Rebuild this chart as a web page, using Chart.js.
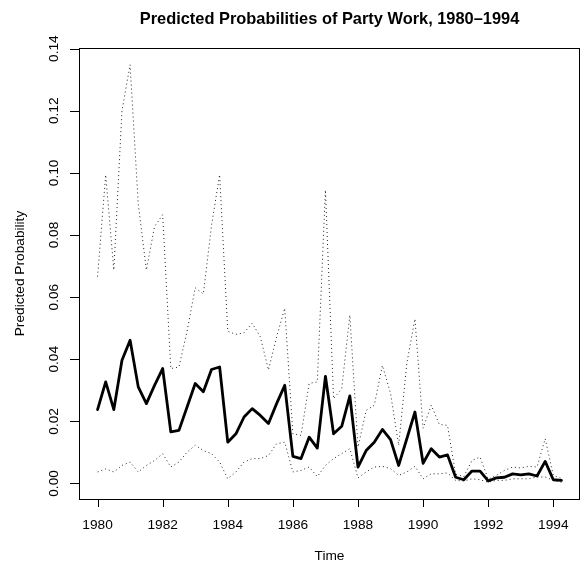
<!DOCTYPE html>
<html>
<head>
<meta charset="utf-8">
<script src="https://cdn.jsdelivr.net/npm/chart.js@4/dist/chart.umd.min.js"></script>
<style>
  html, body { margin: 0; padding: 0; background: #fff; }
  canvas { display: block; }
</style>
</head>
<body>
<canvas id="chart-area" width="583" height="572"></canvas>
<script>
// quarterly time points 1980 Q1 .. 1994 Q2
const time = [
  1980, 1980.25, 1980.5, 1980.75, 1981, 1981.25, 1981.5, 1981.75,
  1982, 1982.25, 1982.5, 1982.75, 1983, 1983.25, 1983.5, 1983.75,
  1984, 1984.25, 1984.5, 1984.75, 1985, 1985.25, 1985.5, 1985.75,
  1986, 1986.25, 1986.5, 1986.75, 1987, 1987.25, 1987.5, 1987.75,
  1988, 1988.25, 1988.5, 1988.75, 1989, 1989.25, 1989.5, 1989.75,
  1990, 1990.25, 1990.5, 1990.75, 1991, 1991.25, 1991.5, 1991.75,
  1992, 1992.25, 1992.5, 1992.75, 1993, 1993.25, 1993.5, 1993.75,
  1994, 1994.25
];

const predicted = [
  0.0238, 0.0327, 0.0238, 0.0397, 0.0461, 0.0311, 0.0257, 0.0316,
  0.0370, 0.0166, 0.0171, 0.0246, 0.0322, 0.0295, 0.0367, 0.0375,
  0.0133, 0.0160, 0.0214, 0.0241, 0.0219, 0.0193, 0.0257, 0.0316,
  0.0087, 0.0080, 0.0149, 0.0114, 0.0345, 0.0160, 0.0184, 0.0282,
  0.0053, 0.0106, 0.0133, 0.0174, 0.0141, 0.0058, 0.0144, 0.0230,
  0.0065, 0.0112, 0.0085, 0.0092, 0.0020, 0.0012, 0.0040, 0.0040,
  0.0008, 0.0018, 0.0020, 0.0031, 0.0028, 0.0031, 0.0024, 0.0071,
  0.0012, 0.0010
];

const upper = [
  0.0666, 0.0994, 0.0687, 0.1200, 0.1348, 0.0900, 0.0687, 0.0827,
  0.0865, 0.0370, 0.0375, 0.0490, 0.0630, 0.0610, 0.0830, 0.0994,
  0.0490, 0.0480, 0.0485, 0.0516, 0.0472, 0.0365, 0.0472, 0.0564,
  0.0160, 0.0155, 0.0322, 0.0327, 0.0945, 0.0273, 0.0305, 0.0542,
  0.0117, 0.0235, 0.0252, 0.0380, 0.0290, 0.0123, 0.0387, 0.0530,
  0.0178, 0.0252, 0.0190, 0.0187, 0.0030, 0.0022, 0.0074, 0.0085,
  0.0014, 0.0026, 0.0042, 0.0053, 0.0050, 0.0055, 0.0053, 0.0144,
  0.0026, 0.0016
];

const lower = [
  0.0037, 0.0047, 0.0037, 0.0058, 0.0069, 0.0037, 0.0058, 0.0074,
  0.0096, 0.0053, 0.0069, 0.0101, 0.0123, 0.0106, 0.0096, 0.0069,
  0.0015, 0.0037, 0.0069, 0.0080, 0.0080, 0.0090, 0.0128, 0.0133,
  0.0037, 0.0042, 0.0053, 0.0022, 0.0058, 0.0080, 0.0096, 0.0112,
  0.0018, 0.0037, 0.0053, 0.0055, 0.0048, 0.0026, 0.0037, 0.0055,
  0.0015, 0.0031, 0.0031, 0.0034, 0.0010, 0.0008, 0.0015, 0.0012,
  0.0004, 0.0010, 0.0010, 0.0015, 0.0015, 0.0015, 0.0021, 0.0021,
  0.0010, 0.0004
];

const xTicks = [1980, 1982, 1984, 1986, 1988, 1990, 1992, 1994];
const yTicks = [0.00, 0.02, 0.04, 0.06, 0.08, 0.10, 0.12, 0.14];

const titleText = 'Predicted Probabilities of Party Work, 1980\u20131994';
const xTitle = 'Time';
const yTitle = 'Predicted Probability';

const FONT = '"Liberation Sans", Arial, Helvetica, sans-serif';

function pts(vals) {
  return vals.map((v, i) => ({ x: time[i], y: v }));
}

// base-graphics style box, ticks and labels
const rAxes = {
  id: 'rAxes',
  afterDraw(chart) {
    const ctx = chart.ctx;
    const a = chart.chartArea;
    const xs = chart.scales.x, ys = chart.scales.y;
    ctx.save();
    ctx.strokeStyle = '#000';
    ctx.lineWidth = 1;
    ctx.strokeRect(Math.round(a.left) + 0.5, Math.round(a.top) + 0.5,
      Math.round(a.right - a.left) - 1, Math.round(a.bottom - a.top));

    ctx.fillStyle = '#000';
    ctx.font = '13.7px ' + FONT;
    ctx.textAlign = 'center';
    ctx.textBaseline = 'middle';

    // x axis
    ctx.beginPath();
    xTicks.forEach(t => {
      const px = Math.round(xs.getPixelForValue(t)) + 0.5;
      ctx.moveTo(px, a.bottom);
      ctx.lineTo(px, a.bottom + 8);
    });
    ctx.stroke();
    xTicks.forEach(t => {
      ctx.fillText(String(t), xs.getPixelForValue(t), a.bottom + 26);
    });

    // y axis
    ctx.beginPath();
    yTicks.forEach(v => {
      const py = Math.round(ys.getPixelForValue(v)) + 0.5;
      ctx.moveTo(a.left, py);
      ctx.lineTo(a.left - 9, py);
    });
    ctx.stroke();
    yTicks.forEach(v => {
      ctx.save();
      ctx.translate(a.left - 25, ys.getPixelForValue(v));
      ctx.rotate(-Math.PI / 2);
      ctx.fillText(v.toFixed(2), 0, 0);
      ctx.restore();
    });

    const cx = (a.left + a.right) / 2;
    ctx.fillText(xTitle, cx, a.bottom + 57);
    ctx.save();
    ctx.translate(20, (a.top + a.bottom) / 2);
    ctx.rotate(-Math.PI / 2);
    ctx.fillText(yTitle, 0, 0);
    ctx.restore();

    ctx.font = 'bold 16.4px ' + FONT;
    ctx.fillText(titleText, cx, 19);
    ctx.restore();
  }
};

window.onload = function() {
  let ctx = document.getElementById('chart-area').getContext('2d');
  new Chart(ctx, {
    type: 'line',
    data: {
      datasets: [
        {
          label: 'Predicted',
          data: pts(predicted),
          borderColor: '#000',
          borderWidth: 2.8,
          borderJoinStyle: 'round',
          borderCapStyle: 'round',
          pointRadius: 0,
          tension: 0
        },
        {
          label: 'Upper',
          data: pts(upper),
          borderColor: '#222',
          borderWidth: 1,
          borderDash: [1, 3],
          pointRadius: 0,
          tension: 0
        },
        {
          label: 'Lower',
          data: pts(lower),
          borderColor: '#222',
          borderWidth: 1,
          borderDash: [1, 3],
          pointRadius: 0,
          tension: 0
        }
      ]
    },
    options: {
      responsive: false,
      animation: false,
      devicePixelRatio: 1,
      layout: { padding: { left: 79, right: 3, top: 48, bottom: 73 } },
      plugins: { legend: { display: false }, tooltip: { enabled: false } },
      scales: {
        x: { type: 'linear', display: false, min: 1979.43, max: 1994.82 },
        y: { type: 'linear', display: false, min: -0.005, max: 0.1402 }
      }
    },
    plugins: [rAxes]
  });
};
</script>
</body>
</html>
